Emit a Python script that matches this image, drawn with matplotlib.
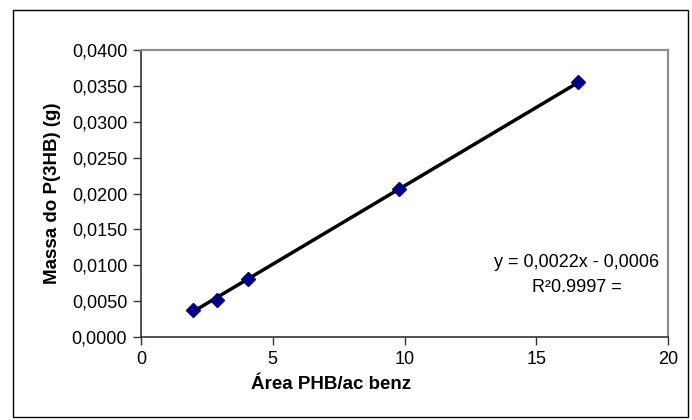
import numpy as np
import matplotlib.pyplot as plt
from matplotlib.patches import Rectangle
from matplotlib.ticker import FuncFormatter, MultipleLocator

plt.rcParams['font.family'] = ['Liberation Sans', 'DejaVu Sans']

# area ratio PHB / benzoic acid vs mass of P(3HB)
area = [1.97, 2.88, 4.06, 9.8, 16.6]
massa = [0.0038, 0.0052, 0.0081, 0.0207, 0.0355]

eq_text = 'y = 0,0022x - 0,0006'
r2_text = 'R²0.9997 ='

fig = plt.figure(figsize=(6.92, 4.2), dpi=100)
ax = fig.add_axes([0.2038, 0.1976, 0.7616, 0.683])

# linear trendline over the data range
coef = np.polyfit(area, massa, 1)
xs = np.array([min(area), max(area)])
ax.plot(xs, np.polyval(coef, xs), color='black', lw=2.5, zorder=2)
ax.plot(area, massa, 'D', color='#000080', ms=7, zorder=3)

ax.set_xlim(0, 20)
ax.set_ylim(0, 0.04)
ax.xaxis.set_major_locator(MultipleLocator(5))
ax.yaxis.set_major_locator(MultipleLocator(0.005))
ax.yaxis.set_major_formatter(FuncFormatter(lambda v, p: f'{v:.4f}'.replace('.', ',')))
ax.tick_params(direction='out', length=6, width=1, labelsize=13, colors='#333333',
               labelcolor='black', pad=4)

for s in ['top', 'right']:
    ax.spines[s].set_color('#8c8c8c')
    ax.spines[s].set_linewidth(1.6)
for s in ['left', 'bottom']:
    ax.spines[s].set_color('#333333')
    ax.spines[s].set_linewidth(1.2)

ax.set_xlabel('Área PHB/ac benz', fontsize=13.5, fontweight='bold', labelpad=6)
ax.xaxis.label.set_x(0.36)
ax.set_ylabel('Massa do P(3HB) (g)', fontsize=13.5, fontweight='bold', labelpad=8)

ax.text(0.827, 0.261, eq_text, transform=ax.transAxes, ha='center', va='center', fontsize=13)
ax.text(0.827, 0.171, r2_text, transform=ax.transAxes, ha='center', va='center', fontsize=13)

# outer chart border
fig.patches.append(Rectangle((0.019, 0.007), 0.975, 0.969, transform=fig.transFigure,
                             fill=False, edgecolor='black', lw=1))

fig.savefig('out.png', dpi=100)
